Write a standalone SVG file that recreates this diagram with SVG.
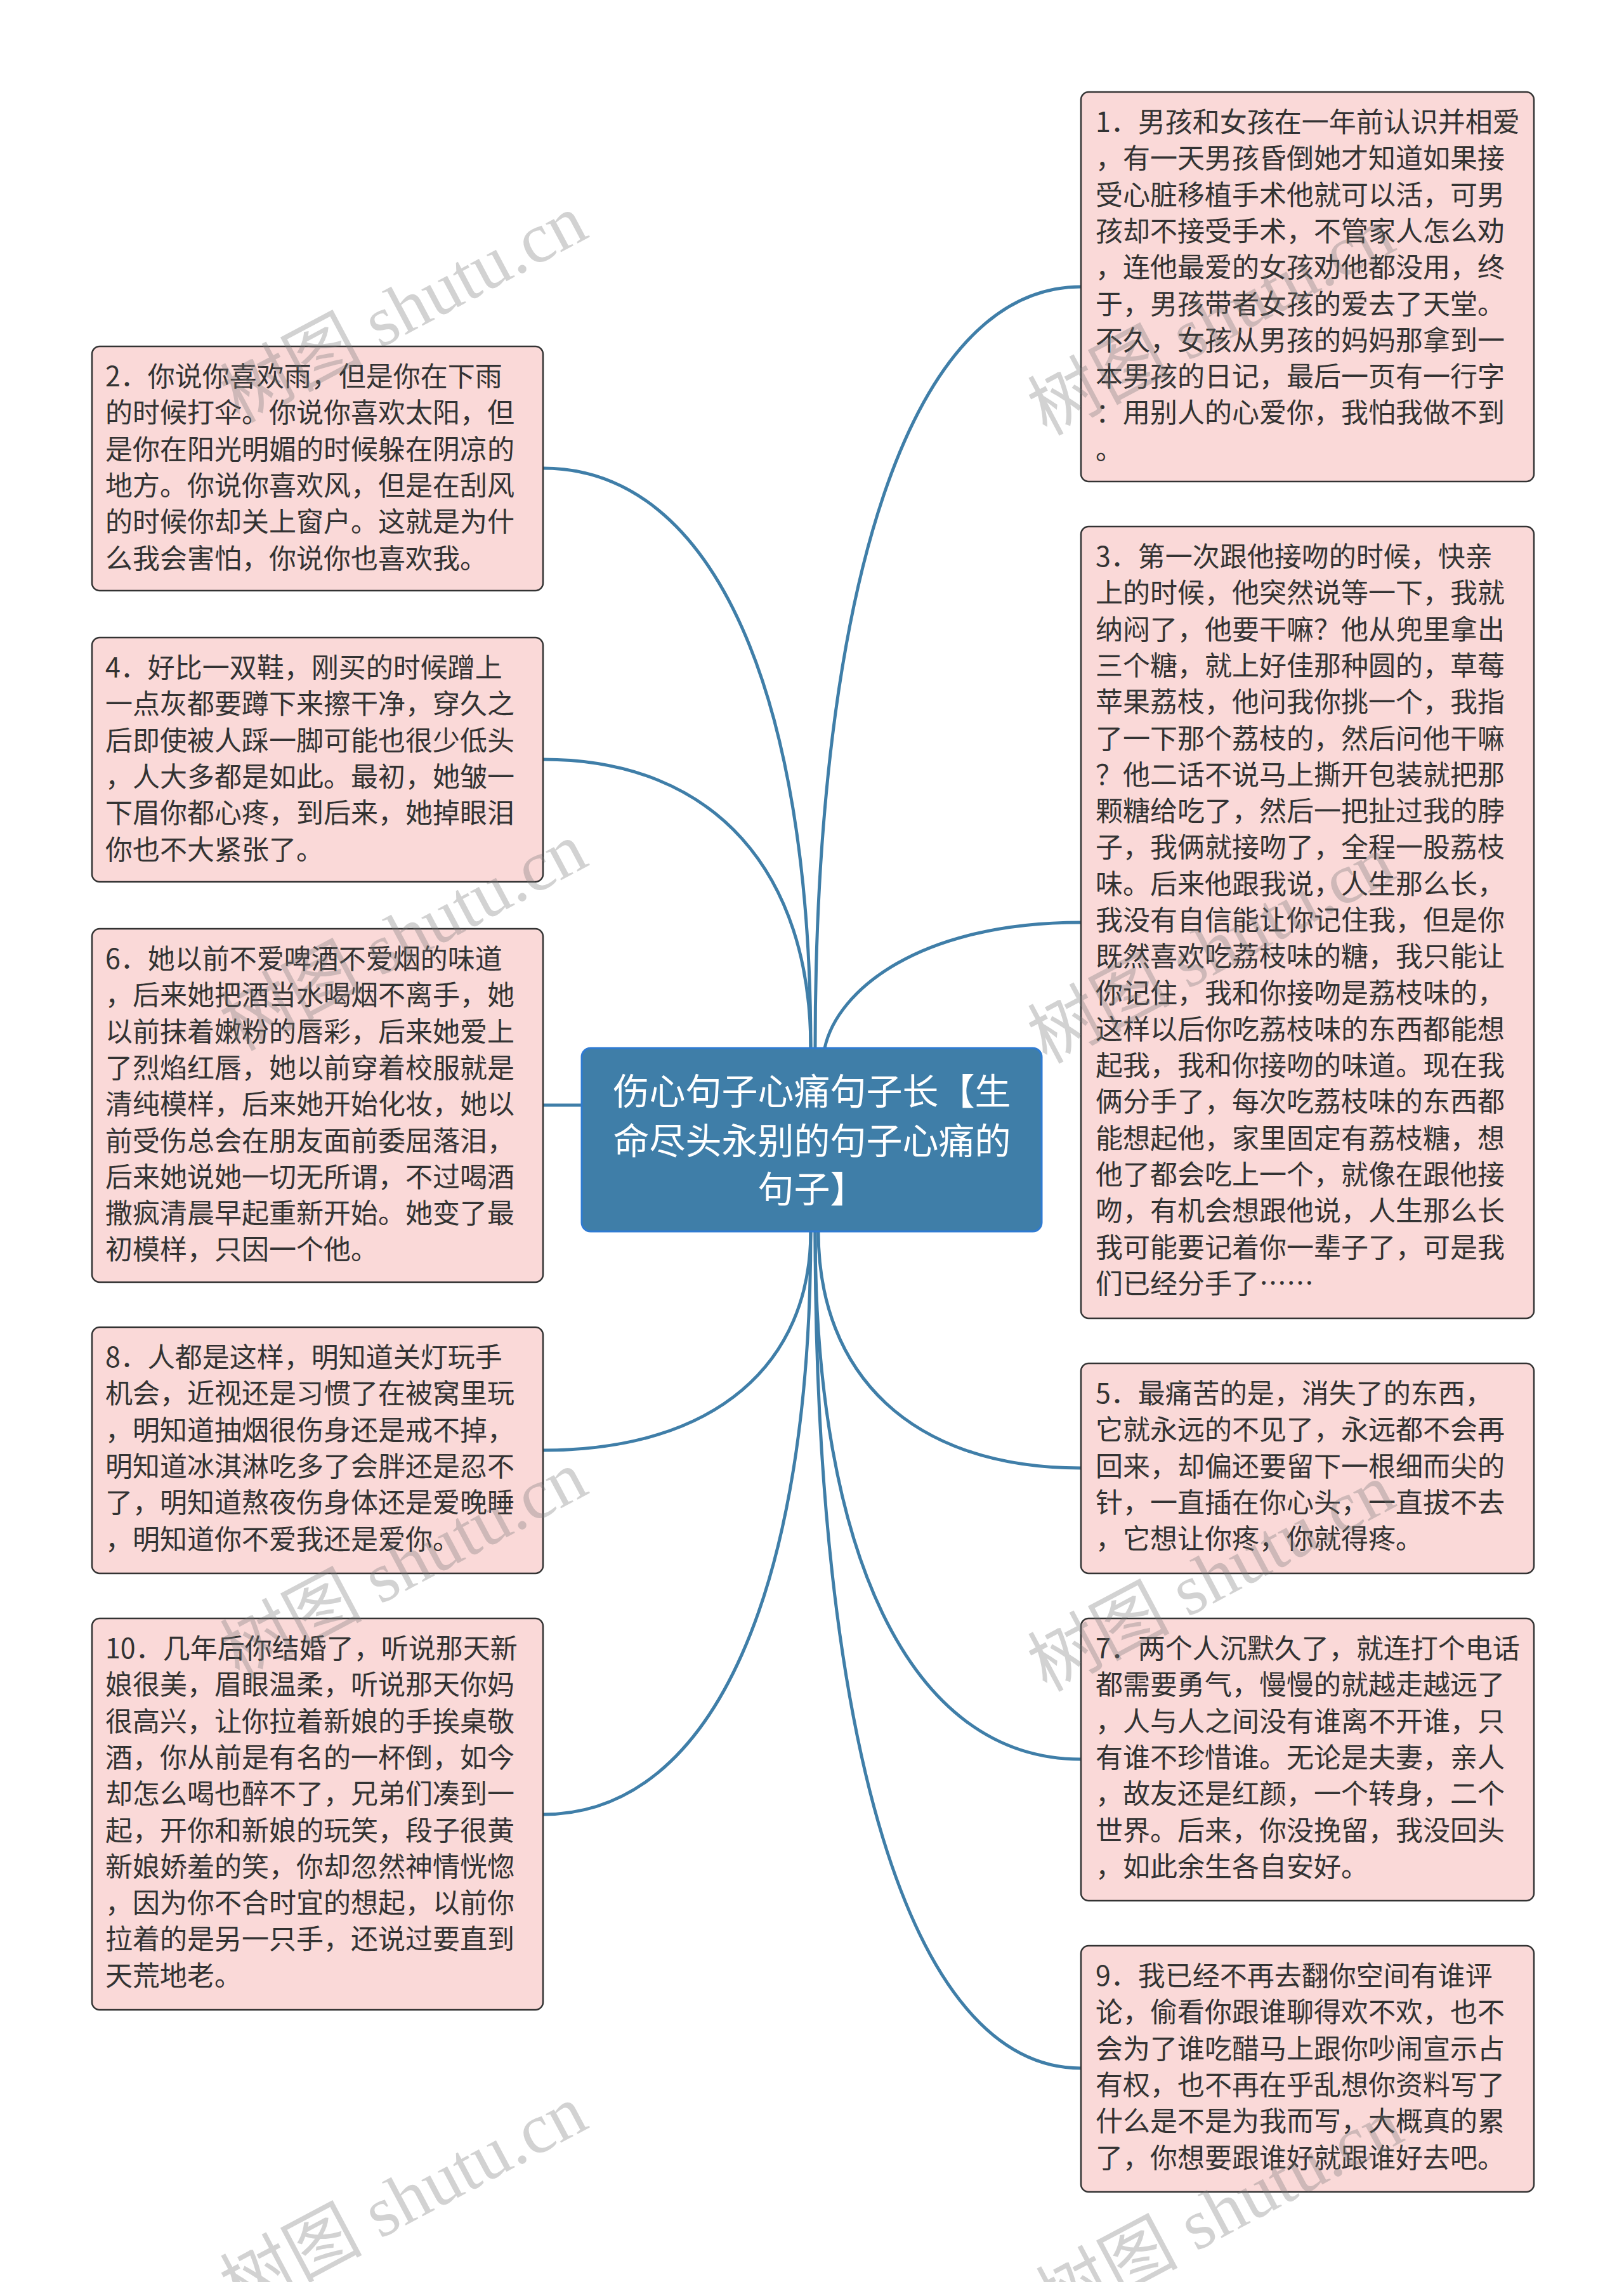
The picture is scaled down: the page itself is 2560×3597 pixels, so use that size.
<svg xmlns="http://www.w3.org/2000/svg" width="2560" height="3597" viewBox="0 0 2560 3597">
<style>
.bg{fill:#ffffff}
.conn{fill:none;stroke:#3f7ea8;stroke-width:5;stroke-linecap:round}
.box{fill:#fad9d8;stroke:#333333;stroke-width:2.5}
.txt{font-family:"Noto Sans CJK SC","Noto Sans",sans-serif;font-size:43px;fill:#333333}
.cbox{fill:#3f7ea8;stroke:#2f7bd2;stroke-width:3}
.ctxt{font-family:"Noto Sans CJK SC","Noto Sans",sans-serif;font-size:57px;fill:#ffffff;text-anchor:middle}
.wm{font-family:"Liberation Serif","Noto Sans CJK SC",serif;font-size:112px;fill:#777777;fill-opacity:0.33;text-anchor:middle}
</style>
<rect class="bg" x="0" y="0" width="2560" height="3597"/>
<g id="connectors">
<path class="conn" d="M1278 1652 C1278 1104 1130 738 856 738"/>
<path class="conn" d="M1278 1652 C1278 1379 1130 1197 856 1197"/>
<path class="conn" d="M917 1742 L856 1742"/>
<path class="conn" d="M1278 1941 C1278 2148 1130 2286 856 2286"/>
<path class="conn" d="M1278 1941 C1278 2492 1130 2860 856 2860"/>
<path class="conn" d="M1285 1652 C1285 932 1432 452 1704 452"/>
<path class="conn" d="M1300 1652 C1320 1560 1450 1454 1704 1454"/>
<path class="conn" d="M1290 1941 C1290 2165 1435 2314 1704 2314"/>
<path class="conn" d="M1285 1941 C1285 2440 1430 2773 1704 2773"/>
<path class="conn" d="M1285 1941 C1285 2732 1430 3260 1704 3260"/>
</g>
<g id="center">
<rect class="cbox" x="917" y="1652" width="725" height="289" rx="14"/>
<text class="ctxt" x="1280" y="1741">伤心句子心痛句子长【生<tspan x="1280" y="1819">命尽头永别的句子心痛的</tspan><tspan x="1280" y="1895">句子】</tspan></text>
</g>
<g id="node2">
<rect class="box" x="145" y="546" width="711" height="385" rx="12"/>
<text class="txt" x="166" y="609">2．你说你喜欢雨，但是你在下雨<tspan x="166" dy="57.3">的时候打伞。你说你喜欢太阳，但</tspan><tspan x="166" dy="57.3">是你在阳光明媚的时候躲在阴凉的</tspan><tspan x="166" dy="57.3">地方。你说你喜欢风，但是在刮风</tspan><tspan x="166" dy="57.3">的时候你却关上窗户。这就是为什</tspan><tspan x="166" dy="57.3">么我会害怕，你说你也喜欢我。</tspan></text>
</g>
<g id="node4">
<rect class="box" x="145" y="1005" width="711" height="385" rx="12"/>
<text class="txt" x="166" y="1068">4．好比一双鞋，刚买的时候蹭上<tspan x="166" dy="57.3">一点灰都要蹲下来擦干净，穿久之</tspan><tspan x="166" dy="57.3">后即使被人踩一脚可能也很少低头</tspan><tspan x="166" dy="57.3">，人大多都是如此。最初，她皱一</tspan><tspan x="166" dy="57.3">下眉你都心疼，到后来，她掉眼泪</tspan><tspan x="166" dy="57.3">你也不大紧张了。</tspan></text>
</g>
<g id="node6">
<rect class="box" x="145" y="1464" width="711" height="557" rx="12"/>
<text class="txt" x="166" y="1527">6．她以前不爱啤酒不爱烟的味道<tspan x="166" dy="57.3">，后来她把酒当水喝烟不离手，她</tspan><tspan x="166" dy="57.3">以前抹着嫩粉的唇彩，后来她爱上</tspan><tspan x="166" dy="57.3">了烈焰红唇，她以前穿着校服就是</tspan><tspan x="166" dy="57.3">清纯模样，后来她开始化妆，她以</tspan><tspan x="166" dy="57.3">前受伤总会在朋友面前委屈落泪，</tspan><tspan x="166" dy="57.3">后来她说她一切无所谓，不过喝酒</tspan><tspan x="166" dy="57.3">撒疯清晨早起重新开始。她变了最</tspan><tspan x="166" dy="57.3">初模样，只因一个他。</tspan></text>
</g>
<g id="node8">
<rect class="box" x="145" y="2092" width="711" height="388" rx="12"/>
<text class="txt" x="166" y="2155">8．人都是这样，明知道关灯玩手<tspan x="166" dy="57.3">机会，近视还是习惯了在被窝里玩</tspan><tspan x="166" dy="57.3">，明知道抽烟很伤身还是戒不掉，</tspan><tspan x="166" dy="57.3">明知道冰淇淋吃多了会胖还是忍不</tspan><tspan x="166" dy="57.3">了，明知道熬夜伤身体还是爱晚睡</tspan><tspan x="166" dy="57.3">，明知道你不爱我还是爱你。</tspan></text>
</g>
<g id="node10">
<rect class="box" x="145" y="2551" width="711" height="617" rx="12"/>
<text class="txt" x="166" y="2614">10．几年后你结婚了，听说那天新<tspan x="166" dy="57.3">娘很美，眉眼温柔，听说那天你妈</tspan><tspan x="166" dy="57.3">很高兴，让你拉着新娘的手挨桌敬</tspan><tspan x="166" dy="57.3">酒，你从前是有名的一杯倒，如今</tspan><tspan x="166" dy="57.3">却怎么喝也醉不了，兄弟们凑到一</tspan><tspan x="166" dy="57.3">起，开你和新娘的玩笑，段子很黄</tspan><tspan x="166" dy="57.3">新娘娇羞的笑，你却忽然神情恍惚</tspan><tspan x="166" dy="57.3">，因为你不合时宜的想起，以前你</tspan><tspan x="166" dy="57.3">拉着的是另一只手，还说过要直到</tspan><tspan x="166" dy="57.3">天荒地老。</tspan></text>
</g>
<g id="node1">
<rect class="box" x="1704" y="145" width="714" height="614" rx="12"/>
<text class="txt" x="1727" y="208">1．男孩和女孩在一年前认识并相爱<tspan x="1727" dy="57.3">，有一天男孩昏倒她才知道如果接</tspan><tspan x="1727" dy="57.3">受心脏移植手术他就可以活，可男</tspan><tspan x="1727" dy="57.3">孩却不接受手术，不管家人怎么劝</tspan><tspan x="1727" dy="57.3">，连他最爱的女孩劝他都没用，终</tspan><tspan x="1727" dy="57.3">于，男孩带者女孩的爱去了天堂。</tspan><tspan x="1727" dy="57.3">不久，女孩从男孩的妈妈那拿到一</tspan><tspan x="1727" dy="57.3">本男孩的日记，最后一页有一行字</tspan><tspan x="1727" dy="57.3">：用别人的心爱你，我怕我做不到</tspan><tspan x="1727" dy="57.3">。</tspan></text>
</g>
<g id="node3">
<rect class="box" x="1704" y="830" width="714" height="1248" rx="12"/>
<text class="txt" x="1727" y="893">3．第一次跟他接吻的时候，快亲<tspan x="1727" dy="57.3">上的时候，他突然说等一下，我就</tspan><tspan x="1727" dy="57.3">纳闷了，他要干嘛？他从兜里拿出</tspan><tspan x="1727" dy="57.3">三个糖，就上好佳那种圆的，草莓</tspan><tspan x="1727" dy="57.3">苹果荔枝，他问我你挑一个，我指</tspan><tspan x="1727" dy="57.3">了一下那个荔枝的，然后问他干嘛</tspan><tspan x="1727" dy="57.3">？他二话不说马上撕开包装就把那</tspan><tspan x="1727" dy="57.3">颗糖给吃了，然后一把扯过我的脖</tspan><tspan x="1727" dy="57.3">子，我俩就接吻了，全程一股荔枝</tspan><tspan x="1727" dy="57.3">味。后来他跟我说，人生那么长，</tspan><tspan x="1727" dy="57.3">我没有自信能让你记住我，但是你</tspan><tspan x="1727" dy="57.3">既然喜欢吃荔枝味的糖，我只能让</tspan><tspan x="1727" dy="57.3">你记住，我和你接吻是荔枝味的，</tspan><tspan x="1727" dy="57.3">这样以后你吃荔枝味的东西都能想</tspan><tspan x="1727" dy="57.3">起我，我和你接吻的味道。现在我</tspan><tspan x="1727" dy="57.3">俩分手了，每次吃荔枝味的东西都</tspan><tspan x="1727" dy="57.3">能想起他，家里固定有荔枝糖，想</tspan><tspan x="1727" dy="57.3">他了都会吃上一个，就像在跟他接</tspan><tspan x="1727" dy="57.3">吻，有机会想跟他说，人生那么长</tspan><tspan x="1727" dy="57.3">我可能要记着你一辈子了，可是我</tspan><tspan x="1727" dy="57.3">们已经分手了……</tspan></text>
</g>
<g id="node5">
<rect class="box" x="1704" y="2149" width="714" height="331" rx="12"/>
<text class="txt" x="1727" y="2212">5．最痛苦的是，消失了的东西，<tspan x="1727" dy="57.3">它就永远的不见了，永远都不会再</tspan><tspan x="1727" dy="57.3">回来，却偏还要留下一根细而尖的</tspan><tspan x="1727" dy="57.3">针，一直插在你心头，一直拔不去</tspan><tspan x="1727" dy="57.3">，它想让你疼，你就得疼。</tspan></text>
</g>
<g id="node7">
<rect class="box" x="1704" y="2551" width="714" height="445" rx="12"/>
<text class="txt" x="1727" y="2614">7．两个人沉默久了，就连打个电话<tspan x="1727" dy="57.3">都需要勇气，慢慢的就越走越远了</tspan><tspan x="1727" dy="57.3">，人与人之间没有谁离不开谁，只</tspan><tspan x="1727" dy="57.3">有谁不珍惜谁。无论是夫妻，亲人</tspan><tspan x="1727" dy="57.3">，故友还是红颜，一个转身，二个</tspan><tspan x="1727" dy="57.3">世界。后来，你没挽留，我没回头</tspan><tspan x="1727" dy="57.3">，如此余生各自安好。</tspan></text>
</g>
<g id="node9">
<rect class="box" x="1704" y="3067" width="714" height="388" rx="12"/>
<text class="txt" x="1727" y="3130">9．我已经不再去翻你空间有谁评<tspan x="1727" dy="57.3">论，偷看你跟谁聊得欢不欢，也不</tspan><tspan x="1727" dy="57.3">会为了谁吃醋马上跟你吵闹宣示占</tspan><tspan x="1727" dy="57.3">有权，也不再在乎乱想你资料写了</tspan><tspan x="1727" dy="57.3">什么是不是为我而写，大概真的累</tspan><tspan x="1727" dy="57.3">了，你想要跟谁好就跟谁好去吧。</tspan></text>
</g>
<g id="watermark">
<text class="wm" transform="translate(654 520) rotate(-28)">树图 shutu.cn</text>
<text class="wm" transform="translate(1927 540) rotate(-28)">树图 shutu.cn</text>
<text class="wm" transform="translate(654 1510) rotate(-28)">树图 shutu.cn</text>
<text class="wm" transform="translate(1927 1530) rotate(-28)">树图 shutu.cn</text>
<text class="wm" transform="translate(654 2500) rotate(-28)">树图 shutu.cn</text>
<text class="wm" transform="translate(1927 2520) rotate(-28)">树图 shutu.cn</text>
<text class="wm" transform="translate(654 3500) rotate(-28)">树图 shutu.cn</text>
<text class="wm" transform="translate(1940 3520) rotate(-28)">树图 shutu.cn</text>
</g>
</svg>
